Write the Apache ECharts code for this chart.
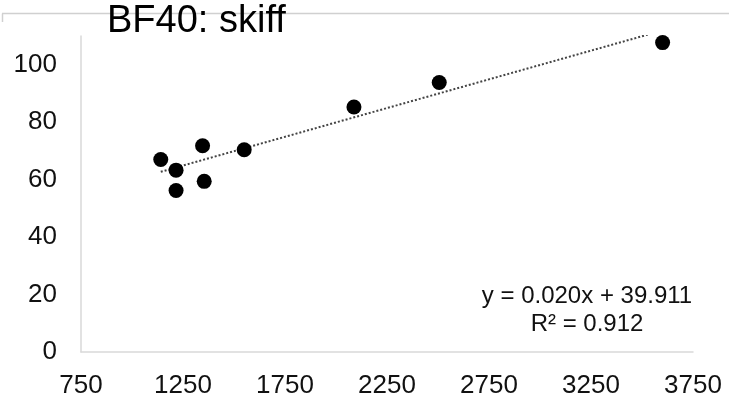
<!DOCTYPE html>
<html>
<head>
<meta charset="utf-8">
<script src="https://cdn.jsdelivr.net/npm/echarts@6/dist/echarts.min.js"></script>
<style>
html,body{margin:0;padding:0;background:#fff;}
#c{width:729px;height:399px;}
</style>
</head>
<body>
<div id="c"></div>
<script>
// ---- data ----
const titleText = 'BF40: skiff';
const xValues = [1141, 1216, 1216, 1346, 1354, 1550, 2088, 2506, 3601];
const yValues = [67.0, 63.3, 56.2, 71.8, 59.4, 70.4, 85.3, 93.8, 107.7];
const trendSlope = 0.020;
const trendIntercept = 39.911;
const rSquared = 0.912;
const xTicks = [750, 1250, 1750, 2250, 2750, 3250, 3750];
const yTicks = [0, 20, 40, 60, 80, 100];

const points = xValues.map((x, i) => [x, yValues[i]]);
const xMinData = Math.min(...xValues);
const xMaxData = Math.max(...xValues);
const trend = [xMinData, xMaxData].map(x => [x, trendSlope * x + trendIntercept]);
const eq1 = 'y = ' + trendSlope.toFixed(3) + 'x + ' + trendIntercept.toFixed(3);
const eq2 = 'R\u00B2 = ' + rSquared.toFixed(3);

const FONT = '"Liberation Sans", Arial, sans-serif';
const chart = echarts.init(document.getElementById('c'), null, {renderer: 'canvas'});
chart.setOption({
  animation: false,
  backgroundColor: '#fff',
  title: {
    text: titleText, left: 107, top: 3, padding: 0,
    textStyle: {fontFamily: FONT, fontSize: 38, fontWeight: 'normal', color: '#000'}
  },
  grid: {left: 81, top: 36, width: 612, height: 317, containLabel: false},
  xAxis: {
    type: 'value', min: xTicks[0], max: xTicks[xTicks.length - 1], interval: 500,
    axisLine: {show: true, lineStyle: {color: '#d9d9d9', width: 1.5}},
    axisTick: {show: false}, splitLine: {show: false},
    axisLabel: {fontFamily: FONT, fontSize: 26, color: '#111', margin: 21,
      formatter: v => String(v)}
  },
  yAxis: {
    type: 'value', min: 0, max: 110, interval: 20,
    axisLine: {show: true, lineStyle: {color: '#d9d9d9', width: 1.5}},
    axisTick: {show: false}, splitLine: {show: false},
    axisLabel: {fontFamily: FONT, fontSize: 26, color: '#111', margin: 24, showMaxLabel: false,
      formatter: v => (yTicks.indexOf(v) >= 0 ? String(v) : '')}
  },
  series: [
    {
      type: 'line', data: trend, symbol: 'none', z: 1,
      lineStyle: {color: '#444', width: 2, type: [2, 2]}
    },
    {
      type: 'scatter', data: points, symbol: 'circle', symbolSize: 15, z: 2,
      itemStyle: {color: '#000', opacity: 1}
    }
  ],
  graphic: [
    {type: 'line', shape: {x1: 2, y1: 13.5, x2: 729, y2: 13.5}, style: {stroke: '#d0d0d0', lineWidth: 1.5}, z: -1},
    {type: 'line', shape: {x1: 2.5, y1: 13.5, x2: 2.5, y2: 22}, style: {stroke: '#d0d0d0', lineWidth: 1.5}, z: -1},
    {type: 'text', x: 587, y: 296, style: {text: eq1, fontFamily: FONT, fontSize: 24, fill: '#111', textAlign: 'center', textVerticalAlign: 'middle'}},
    {type: 'text', x: 587, y: 324, style: {text: eq2, fontFamily: FONT, fontSize: 24, fill: '#111', textAlign: 'center', textVerticalAlign: 'middle'}}
  ]
});
</script>
</body>
</html>
